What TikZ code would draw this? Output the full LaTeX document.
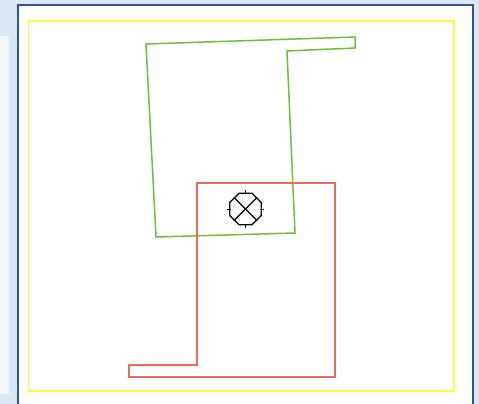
\documentclass[tikz,border=0pt]{standalone}
\usepackage{tikz}
\usepackage{xcolor}
\usetikzlibrary{shapes.geometric, positioning}

\definecolor{pagebg}{RGB}{221,231,243}
\definecolor{panelbg}{RGB}{243,245,248}
\definecolor{frameblue}{RGB}{47,84,152}
\definecolor{zoneyellow}{RGB}{255,250,60}
\definecolor{roomgreen}{RGB}{112,190,62}
\definecolor{roomred}{RGB}{238,104,88}

\tikzset{
  sheet/.style={draw=frameblue, line width=2pt, fill=white},
  zone/.style={draw=zoneyellow, line width=1.6pt},
  greenroom/.style={draw=roomgreen, line width=1.5pt, line join=miter},
  redroom/.style={draw=roomred, line width=1.5pt, line join=miter},
  marker/.style={draw, regular polygon, regular polygon sides=8,
    minimum size=34pt, inner sep=0pt, line width=1.2pt}
}

\begin{document}
\begin{tikzpicture}[x=1pt, y=-1pt]
\useasboundingbox (0,0) rectangle (479,404);
\fill[pagebg] (0,0) rectangle (479,404);
\fill[panelbg] (0,36) rectangle (9,394);

% drawing sheet and its zone
\draw[sheet] (18,5) rectangle (473,412);
\draw[zone] (28.5,21) rectangle (454,391);

% rooms
\draw[greenroom] (146,44) -- (355,37) -- (355,48) -- (287,51)
  -- (295,233) -- (156,237) -- cycle;
\draw[redroom] (197,183) -- (335,183) -- (335,377) -- (129,377)
  -- (129,365) -- (197,365) -- cycle;

% crossed marker
\node[marker] (mark) at (245.5,209) {};
\draw[line width=1.1pt] (mark.north east) -- (mark.south west);
\draw[line width=1.1pt] (mark.north west) -- (mark.south east);
\draw[line width=1pt] ([yshift=2.5pt]mark.north) -- ([yshift=-1.5pt]mark.north);
\draw[line width=1pt] ([yshift=-2.5pt]mark.south) -- ([yshift=1.5pt]mark.south);
\draw[line width=1pt] ([xshift=-2.5pt]mark.west) -- ([xshift=1.5pt]mark.west);
\draw[line width=1pt] ([xshift=2.5pt]mark.east) -- ([xshift=-1.5pt]mark.east);
\end{tikzpicture}
\end{document}
